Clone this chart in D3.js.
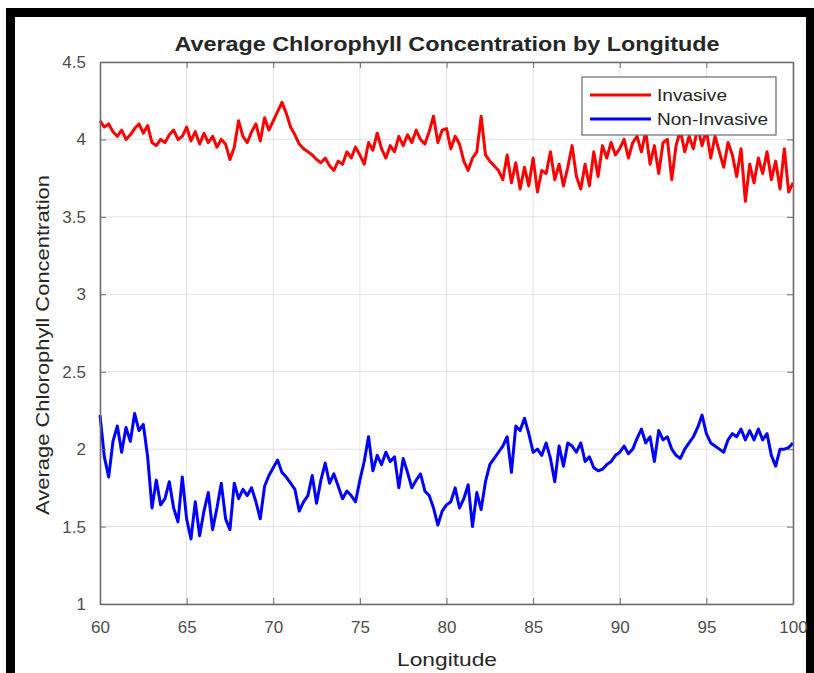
<!DOCTYPE html>
<html lang="en">
<head>
    <meta charset="UTF-8">
    <title>Average Chlorophyll Concentration by Longitude</title>
    <script src="https://d3js.org/d3.v7.min.js"></script>
    <style>
        body { margin: 0; background: #fff; }
        svg { display: block; }
        text { font-family: "Liberation Sans", Arial, sans-serif; fill: #262626; }
        .tick text { font-size: 17px; fill: #4d4d4d; }
    </style>
</head>
<body>
    <svg width="814" height="673"></svg>

    <script>
        // longitude step of 0.25 from 60 to 100
        const lonStart = 60, lonStep = 0.25;

        const invasive = [
            4.12, 4.08, 4.10, 4.05,  4.02, 4.06, 4.00, 4.03,  4.07, 4.10, 4.04, 4.09,
            3.98, 3.96, 4.00, 3.98,  4.03, 4.06, 4.00, 4.02,  4.08, 3.99, 4.05, 3.97,
            4.04, 3.98, 4.02, 3.95,  4.00, 3.97, 3.87, 3.95,  4.12, 4.02, 3.98, 4.05,
            4.10, 3.99, 4.14, 4.06,  4.12, 4.18, 4.24, 4.17,  4.08, 4.03, 3.97, 3.94,
            3.92, 3.90, 3.87, 3.85,  3.88, 3.83, 3.80, 3.86,  3.84, 3.92, 3.88, 3.95,
            3.90, 3.84, 3.98, 3.93,  4.04, 3.94, 3.88, 3.96,  3.92, 4.02, 3.96, 4.03,
            3.98, 4.06, 4.00, 3.97,  4.05, 4.15, 3.98, 4.06,  4.07, 3.94, 4.02, 3.97,
            3.86, 3.80, 3.88, 3.92,  4.15, 3.90, 3.86, 3.83,  3.80, 3.74, 3.90, 3.72,
            3.85, 3.68, 3.82, 3.70,  3.88, 3.66, 3.80, 3.78,  3.92, 3.74, 3.84, 3.70,
            3.82, 3.96, 3.76, 3.68,  3.84, 3.70, 3.92, 3.76,  3.96, 3.88, 3.98, 3.90,
            3.94, 4.00, 3.88, 3.98,  4.02, 3.92, 4.05, 3.84,  3.96, 3.78, 3.98, 4.00,
            3.74, 3.96, 4.06, 3.92,  4.02, 3.94, 4.08, 3.96,  4.06, 3.88, 4.02, 3.92,
            3.82, 3.98, 3.90, 3.76,  3.94, 3.60, 3.84, 3.72,  3.88, 3.78, 3.92, 3.74,
            3.86, 3.68, 3.94, 3.66,  3.72
        ];

        const nonInvasive = [
            2.22, 1.95, 1.82, 2.05,  2.15, 1.98, 2.14, 2.05,  2.23, 2.12, 2.16, 1.95,
            1.62, 1.80, 1.64, 1.68,  1.79, 1.62, 1.53, 1.82,  1.55, 1.42, 1.66, 1.44,
            1.60, 1.72, 1.48, 1.62,  1.78, 1.55, 1.48, 1.78,  1.68, 1.74, 1.70, 1.75,
            1.66, 1.55, 1.76, 1.83,  1.88, 1.93, 1.85, 1.82,  1.78, 1.74, 1.60, 1.66,
            1.70, 1.83, 1.65, 1.80,  1.91, 1.78, 1.84, 1.76,  1.68, 1.73, 1.70, 1.66,
            1.80, 1.92, 2.08, 1.86,  1.96, 1.90, 1.98, 1.92,  1.95, 1.75, 1.94, 1.85,
            1.75, 1.80, 1.84, 1.73,  1.70, 1.62, 1.51, 1.60,  1.64, 1.66, 1.75, 1.62,
            1.68, 1.77, 1.50, 1.72,  1.61, 1.79, 1.90, 1.94,  1.98, 2.02, 2.08, 1.85,
            2.15, 2.12, 2.20, 2.10,  1.98, 2.00, 1.96, 2.04,  1.94, 1.79, 2.02, 1.89,
            2.04, 2.02, 1.98, 2.04,  1.92, 1.95, 1.88, 1.86,  1.87, 1.90, 1.92, 1.96,
            1.98, 2.02, 1.97, 2.00,  2.07, 2.13, 2.04, 2.08,  1.92, 2.12, 2.06, 2.08,
            2.00, 1.96, 1.94, 2.00,  2.04, 2.08, 2.14, 2.22,  2.10, 2.04, 2.02, 2.00,
            1.98, 2.06, 2.10, 2.08,  2.13, 2.06, 2.12, 2.06,  2.13, 2.06, 2.10, 1.96,
            1.89, 2.00, 2.00, 2.01,  2.04
        ];

        const xTicks = [60, 65, 70, 75, 80, 85, 90, 95, 100];
        const yTicks = [1, 1.5, 2, 2.5, 3, 3.5, 4, 4.5];

        const seriesNames = ["Invasive", "Non-Invasive"];
        const seriesColors = ["#ff0000", "#0000ff"];

        const svg = d3.select("svg");

        // black frame around the screenshot
        svg.append("rect").attr("x", 6).attr("y", 8).attr("width", 808).attr("height", 9).attr("fill", "#000");
        svg.append("rect").attr("x", 6).attr("y", 8).attr("width", 9).attr("height", 665).attr("fill", "#000");
        svg.append("rect").attr("x", 806).attr("y", 8).attr("width", 8).attr("height", 665).attr("fill", "#000");

        const plotL = 100, plotR = 793, plotT = 62, plotB = 604;

        const x = d3.scaleLinear().domain([60, 100]).range([plotL, plotR]);
        const y = d3.scaleLinear().domain([1, 4.5]).range([plotB, plotT]);

        // grid
        const grid = svg.append("g").attr("stroke", "#262626").attr("stroke-opacity", 0.13);
        grid.selectAll(".gx").data(xTicks).join("line")
            .attr("x1", d => x(d)).attr("x2", d => x(d))
            .attr("y1", plotT).attr("y2", plotB);
        grid.selectAll(".gy").data(yTicks).join("line")
            .attr("y1", d => y(d)).attr("y2", d => y(d))
            .attr("x1", plotL).attr("x2", plotR);

        // lines
        const line = d3.line()
            .x((d, i) => x(lonStart + i * lonStep))
            .y(d => y(d));

        [invasive, nonInvasive].forEach((vals, k) => {
            svg.append("path")
                .datum(vals)
                .attr("fill", "none")
                .attr("stroke", seriesColors[k])
                .attr("stroke-width", 3)
                .attr("stroke-linejoin", "round")
                .attr("d", line);
        });

        // axes, ticks inside like matlab
        const axisColor = "#6a6a6a";
        const fmt = d => String(d);
        const xAxis = svg.append("g").attr("transform", `translate(0,${plotB})`)
            .call(d3.axisBottom(x).tickValues(xTicks).tickFormat(fmt).tickSizeInner(-6).tickSizeOuter(0).tickPadding(20));
        const xAxisTop = svg.append("g").attr("transform", `translate(0,${plotT})`)
            .call(d3.axisTop(x).tickValues(xTicks).tickSizeInner(-6).tickSizeOuter(0).tickFormat(""));
        const yAxis = svg.append("g").attr("transform", `translate(${plotL},0)`)
            .call(d3.axisLeft(y).tickValues(yTicks).tickFormat(fmt).tickSizeInner(-6).tickSizeOuter(0).tickPadding(14));
        const yAxisRight = svg.append("g").attr("transform", `translate(${plotR},0)`)
            .call(d3.axisRight(y).tickValues(yTicks).tickSizeInner(-6).tickSizeOuter(0).tickFormat(""));
        [xAxis, xAxisTop, yAxis, yAxisRight].forEach(a => {
            a.selectAll("path").attr("stroke", axisColor).attr("stroke-width", 1.5);
            a.selectAll("line").attr("stroke", axisColor);
        });
        xAxis.selectAll("text").attr("dy", "0.55em");

        // title and labels (text in the screenshot is a bit wider than normal)
        svg.append("text")
            .attr("x", 447).attr("y", 51)
            .attr("text-anchor", "middle")
            .attr("font-size", 20).attr("font-weight", "bold")
            .attr("fill", "#000")
            .attr("textLength", 545).attr("lengthAdjust", "spacingAndGlyphs")
            .text("Average Chlorophyll Concentration by Longitude");

        svg.append("text")
            .attr("x", 447).attr("y", 666)
            .attr("text-anchor", "middle")
            .attr("font-size", 19)
            .attr("fill", "#4d4d4d")
            .attr("textLength", 100).attr("lengthAdjust", "spacingAndGlyphs")
            .text("Longitude");

        svg.append("text")
            .attr("transform", `translate(49,345) rotate(-90)`)
            .attr("text-anchor", "middle")
            .attr("font-size", 19)
            .attr("fill", "#4d4d4d")
            .attr("textLength", 340).attr("lengthAdjust", "spacingAndGlyphs")
            .text("Average Chlorophyll Concentration");

        // legend
        const legend = svg.append("g").attr("transform", "translate(582,77)");
        legend.append("rect")
            .attr("width", 194).attr("height", 58)
            .attr("fill", "#fff").attr("stroke", "#6a6a6a").attr("stroke-width", 1.2);
        const legendWidths = [70, 111];
        seriesNames.forEach((name, i) => {
            const ly = 18 + i * 24;
            legend.append("line")
                .attr("x1", 8).attr("x2", 69).attr("y1", ly).attr("y2", ly)
                .attr("stroke", seriesColors[i]).attr("stroke-width", 3);
            legend.append("text")
                .attr("x", 75).attr("y", ly + 6)
                .attr("font-size", 16)
                .attr("fill", "#333")
                .attr("textLength", legendWidths[i]).attr("lengthAdjust", "spacingAndGlyphs")
                .text(name);
        });
    </script>
</body>
</html>
